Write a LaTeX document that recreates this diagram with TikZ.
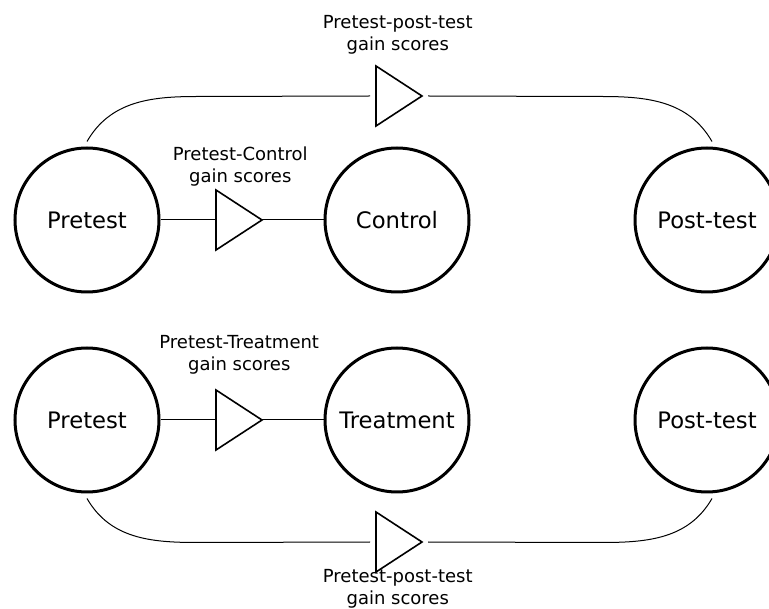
\documentclass[tikz,border=0pt]{standalone}
\usepackage{fontspec}
\setmainfont{DejaVu Sans}
\usetikzlibrary{positioning,shapes.geometric}
\tikzset{
  stage/.style={circle, draw, line width=3pt, minimum size=144pt, inner sep=0pt,
    font=\fontsize{22.7}{27}\selectfont},
  gain/.style={isosceles triangle, isosceles triangle stretches, draw, line width=1.6pt,
    minimum width=60pt, minimum height=46pt, inner sep=0pt, outer sep=0pt},
  link/.style={line width=1pt},
  note/.style={align=center, inner sep=0pt, font=\fontsize{18}{22}\selectfont},
}

\begin{document}
\begin{tikzpicture}[x=1pt, y=1pt, node distance=310pt]
\useasboundingbox (0,0) rectangle (769,-609);
% upper row: control group
\node[stage] (pre1) at (87,-220) {Pretest};
\node[stage, right=of pre1.center, anchor=center] (ctl) {Control};
\node[stage, right=of ctl.center, anchor=center] (post1) {Post-test};
% lower row: treatment group
\node[stage, below=200pt of pre1.center, anchor=center] (pre2) {Pretest};
\node[stage, right=of pre2.center, anchor=center] (trt) {Treatment};
\node[stage, right=of trt.center, anchor=center] (post2) {Post-test};

% gain score triangles
\node[gain, anchor=west] (gc) at ([xshift=129pt]pre1.center) {};
\node[gain, anchor=west] (gt) at ([xshift=129pt]pre2.center) {};
\node[gain, anchor=west] (gu) at ([xshift=289pt,yshift=124pt]pre1.center) {};
\node[gain, anchor=west] (gl) at ([xshift=289pt,yshift=-122pt]pre2.center) {};

\node[note, above=14pt of gc, xshift=8pt] (gcl) {Pretest-Control\\gain scores};
\node[note, above=26pt of gt, xshift=7pt] (gtl) {Pretest-Treatment\\gain scores};
\node[note, above=22pt of gu, xshift=5.5pt] (gul) {Pretest-post-test\\gain scores};
\node[note, below=8pt of gl, xshift=5.5pt] (gll) {Pretest-post-test\\gain scores};

% short links
\draw[link] (pre1) -- (gc);
\draw[link] (gc) -- (ctl);
\draw[link] (pre2) -- (gt);
\draw[link] (gt) -- (trt);

% long links round the top and bottom
\draw[link] ([yshift=5pt]pre1.north) to[out=60,in=180] ([xshift=110pt,yshift=50pt]pre1.north)
  -- ([xshift=-6pt]gu.west);
\draw[link] ([xshift=6pt]gu.apex) -- ([xshift=-105pt,yshift=50pt]post1.north)
  to[out=0,in=120] ([xshift=5pt,yshift=5pt]post1.north);
\draw[link] ([yshift=-5pt]pre2.south) to[out=-60,in=180] ([xshift=110pt,yshift=-49pt]pre2.south)
  -- ([xshift=-6pt]gl.west);
\draw[link] ([xshift=6pt]gl.apex) -- ([xshift=-105pt,yshift=-49pt]post2.south)
  to[out=0,in=-120] ([xshift=5pt,yshift=-5pt]post2.south);
\end{tikzpicture}
\end{document}
